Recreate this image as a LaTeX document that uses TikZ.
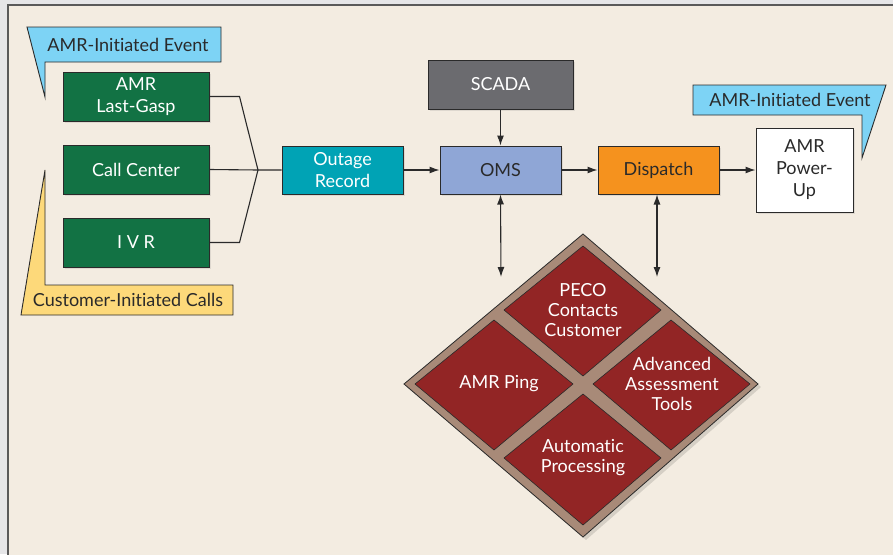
\documentclass[tikz,border=0pt]{standalone}
\usepackage{fontspec}
\setmainfont{Lato}[Ligatures=NoCommon]
\usetikzlibrary{arrows.meta,shadows}
\definecolor{bgout}{HTML}{E6E6E8}
\definecolor{beige}{HTML}{F3ECE1}
\definecolor{gframe}{HTML}{5A5A5A}
\definecolor{green}{HTML}{127244}
\definecolor{teal}{HTML}{00A3B5}
\definecolor{scada}{HTML}{6B6B6F}
\definecolor{oms}{HTML}{8FA6D6}
\definecolor{disp}{HTML}{F5921E}
\definecolor{callblue}{HTML}{7DD3F5}
\definecolor{callyel}{HTML}{FDD97A}
\definecolor{dred}{HTML}{922525}
\definecolor{brown}{HTML}{A88A78}
\definecolor{ink}{HTML}{2A2A2A}
\tikzset{
  boxnode/.style={draw=ink, line width=1pt, inner sep=0pt, align=center,
    font=\fontsize{18}{22}\selectfont,
    drop shadow={opacity=0.18, shadow xshift=2pt, shadow yshift=-2pt}},
  conn/.style={draw=ink, line width=1.1pt},
  arr/.style={conn, -{Latex[length=10pt,width=7pt]}},
  darr/.style={conn, {Latex[length=10pt,width=7pt]}-{Latex[length=10pt,width=7pt]}},
  callout/.style={draw=ink, line width=0.9pt},
  calltext/.style={font=\fontsize{18}{21}\selectfont, text=ink, inner sep=0pt},
  dtext/.style={font=\fontsize{18}{20}\selectfont, text=white, align=center, inner sep=0pt},
}
\begin{document}
\begin{tikzpicture}[x=1pt,y=-1pt]
\useasboundingbox (0,0) rectangle (893,554);
\clip (0,0) rectangle (893,554);
\fill[bgout] (0,0) rectangle (893,554);
\draw[fill=beige, draw=gframe, line width=1.2pt] (8,5) rectangle (900,560);

% callouts
\draw[callout, fill=callblue] (27,27) -- (221,27) -- (221,62) -- (45,62) -- (45,97) -- cycle;
\node[calltext] (c1) at (128,45) {AMR-Initiated Event};
\draw[callout, fill=callyel] (45,170) -- (45,285) -- (233,285) -- (233,315) -- (21,315) -- cycle;
\node[calltext] (c2) at (128,300) {Customer-Initiated Calls};
\draw[callout, fill=callblue] (693,85) -- (886,85) -- (862,158) -- (862,115) -- (693,115) -- cycle;
\node[calltext] (c3) at (790,100) {AMR-Initiated Event};

% boxes
\node[boxnode, fill=green, text=white, minimum width=146pt, minimum height=49pt] (amr) at (136,96.5) {AMR\\Last-Gasp};
\node[boxnode, fill=green, text=white, minimum width=146pt, minimum height=49pt] (call) at (136,169.5) {Call Center};
\node[boxnode, fill=green, text=white, minimum width=146pt, minimum height=49pt] (ivr) at (136,242.5) {I V R};
\node[boxnode, fill=teal, text=white, minimum width=121pt, minimum height=48pt] (out) at (342.5,170) {Outage\\Record};
\node[boxnode, fill=scada, text=white, minimum width=145pt, minimum height=49pt] (scada) at (500.5,84.5) {SCADA};
\node[boxnode, fill=oms, text=ink, minimum width=121pt, minimum height=48pt] (oms) at (500.5,170) {OMS};
\node[boxnode, fill=disp, text=ink, minimum width=121pt, minimum height=48pt] (disp) at (658.5,170) {Dispatch};
\node[boxnode, fill=white, text=ink, minimum width=97pt, minimum height=84pt] (pu) at (804.5,170) {AMR\\Power-\\Up};

% fan-in
\coordinate (j) at (258,170);
\draw[conn] (amr.east) -- ++(30,0) -- (j);
\draw[conn] (ivr.east) -- ++(30,0) -- (j);
\draw[conn] (call.east) -- (j) -- (out.west);

% arrows
\draw[arr] (out.east) -- (oms.west);
\draw[arr] (oms.east) -- (disp.west);
\draw[arr] (disp.east) -- (pu.west);
\draw[arr] (scada.south) -- (oms.north);
\coordinate (e1) at (501,277);
\coordinate (e2) at (657,277);
\draw[darr] (oms.south) -- (e1);
\draw[darr] (disp.south -| e2) -- (e2);

% diamond
\fill[black, opacity=0.12] (586,237) -- (761,387) -- (586,540) -- (407,387) -- cycle;
\draw[fill=brown, draw=ink, line width=0.8pt] (583,234) -- (758,384) -- (583,537) -- (404,384) -- cycle;
\draw[fill=dred, draw=ink, line width=0.6pt] (583,246) -- (661,310) -- (583,376) -- (504,310) -- cycle;
\draw[fill=dred, draw=ink, line width=0.6pt] (494,320) -- (573,384) -- (494,450) -- (415,384) -- cycle;
\draw[fill=dred, draw=ink, line width=0.6pt] (671,320) -- (750,384) -- (671,450) -- (593,384) -- cycle;
\draw[fill=dred, draw=ink, line width=0.6pt] (583,394) -- (661,458) -- (583,525) -- (504,458) -- cycle;
\node[dtext] (d1) at (583,310) {PECO\\Contacts\\Customer};
\node[dtext] (d2) at (499,384) {AMR Ping};
\node[dtext] (d3) at (672,384) {Advanced\\Assessment\\Tools};
\node[dtext] (d4) at (583,458) {Automatic\\Processing};
\end{tikzpicture}
\end{document}
